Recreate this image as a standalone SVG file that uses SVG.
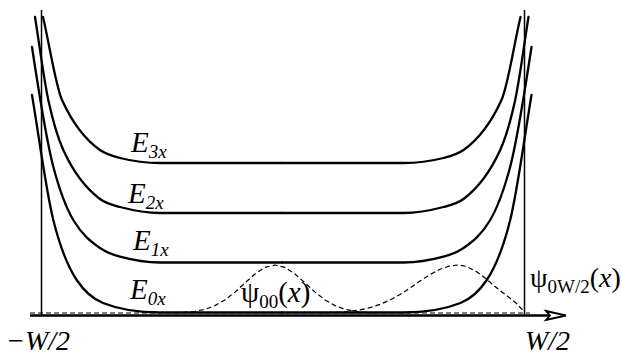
<svg xmlns="http://www.w3.org/2000/svg" width="622" height="356" viewBox="0 0 622 356">
<style>
.lvl{fill:none;stroke:#000;stroke-width:2.3;stroke-linecap:round}
.wall{stroke:#000;stroke-width:1.5;fill:none}
.dash{fill:none;stroke:#000;stroke-width:1.2;stroke-dasharray:5,3}
.t{font-family:"Liberation Serif","Times New Roman",serif;fill:#000}
.it{font-style:italic}
</style>
<defs>
<path id="E3L" class="lvl" d="M43,17 C49.3,43.6 55.7,86.1 62,100 C74.7,127.9 87.3,141.1 100,150 C106.7,154.7 113.3,156.3 120,158 C133.3,161.3 146.7,163 160,163 L281.75,163"/>
<path id="E2L" class="lvl" d="M35,17 C39.4,44.5 43.9,79.6 48.3,100 C53.3,123 58.3,139 63.3,150 C75.5,176.9 87.8,189.8 100,199 C106.7,204 113.3,205.3 120,207 C133.3,210.5 146.7,213 160,213 L281.75,213"/>
<path id="E1L" class="lvl" d="M32,47 C39.1,93.9 46.2,139.7 53.3,166.7 C60,192 66.6,208.7 73.3,220 C82.2,235.1 91.1,241.8 100,248 C106.7,252.7 113.3,254.9 120,256.7 C133.3,260.3 146.7,262.5 160,262.5 L281.75,262.5"/>
<path id="E0L" class="lvl" d="M32,95 C39.1,137.6 46.2,191.6 53.3,220 C61.1,251.2 68.9,268.3 76.7,280 C85.5,293.2 94.2,299.5 103,303 C122,310.6 141,312.5 160,312.5 L281.75,312.5"/>
</defs>
<rect width="622" height="356" fill="#fff"/>
<g id="axis">
<line x1="30" y1="315.5" x2="562" y2="315.5" stroke="#000" stroke-width="2.4"/>
<polygon points="546,311 566,315.5 546,320 550,315.5" fill="#fff" stroke="#000" stroke-width="1.8" stroke-linejoin="miter"/>
<line x1="41.5" y1="10" x2="41.5" y2="315" class="wall"/>
<line x1="524.5" y1="10" x2="524.5" y2="315" class="wall"/>
</g>
<g id="levels">
<g id="E3"><use href="#E3L"/><use href="#E3L" transform="translate(563.5 0) scale(-1 1)"/></g>
<g id="E2"><use href="#E2L"/><use href="#E2L" transform="translate(563.5 0) scale(-1 1)"/></g>
<g id="E1"><use href="#E1L"/><use href="#E1L" transform="translate(563.5 0) scale(-1 1)"/></g>
<g id="E0"><use href="#E0L"/><use href="#E0L" transform="translate(563.5 0) scale(-1 1)"/></g>
</g>
<g id="wavefunctions">
<line class="dash" x1="30" y1="313" x2="530" y2="313"/>
<polyline id="psi00" class="dash" points="175,312.7 185,312.3 195,311.3 205,309.3 215,305.6 225,299.9 235,292.1 245,282.9 255,274 265,267.4 275,265 285,267.4 295,274 305,282.9 315,292.1 325,299.9 335,305.6 345,309.3 355,311.3 365,312.3 375,312.7"/>
<polyline id="psi0W2" class="dash" points="320,312.8 340,312.1 350,311.2 360,309.8 370,307.7 380,304.4 390,300 400,294.5 410,288 420,281.1 430,274.6 440,269.2 450,265.9 458,265 466,266.3 476,271.3 486,278.8 496,287.3 506,295 516,303 525,312.5"/>
</g>
<g id="labels" font-family="Liberation Serif, Times New Roman, serif">
<text class="t it" font-family="Liberation Serif" x="131" y="152" font-size="29">E<tspan font-size="19" dy="6">3x</tspan></text>
<text class="t it" font-family="Liberation Serif" x="128" y="203" font-size="29">E<tspan font-size="19" dy="6">2x</tspan></text>
<text class="t it" font-family="Liberation Serif" x="133" y="250" font-size="29">E<tspan font-size="19" dy="6">1x</tspan></text>
<text class="t it" font-family="Liberation Serif" x="130" y="299" font-size="29">E<tspan font-size="19" dy="6">0x</tspan></text>
<text class="t" font-family="Liberation Serif" x="241" y="302" font-size="29">ψ<tspan font-size="19" dy="6">00</tspan><tspan dy="-6">(</tspan><tspan class="it">x</tspan>)</text>
<text class="t" font-family="Liberation Serif" x="530" y="287" font-size="28">ψ<tspan font-size="19" dy="6">0W/2</tspan><tspan dy="-6">(</tspan><tspan class="it">x</tspan>)</text>
<text class="t it" font-family="Liberation Serif" x="6" y="349.5" font-size="28">−W/2</text>
<text class="t it" font-family="Liberation Serif" x="525" y="349.5" font-size="28">W/2</text>
</g>
</svg>
